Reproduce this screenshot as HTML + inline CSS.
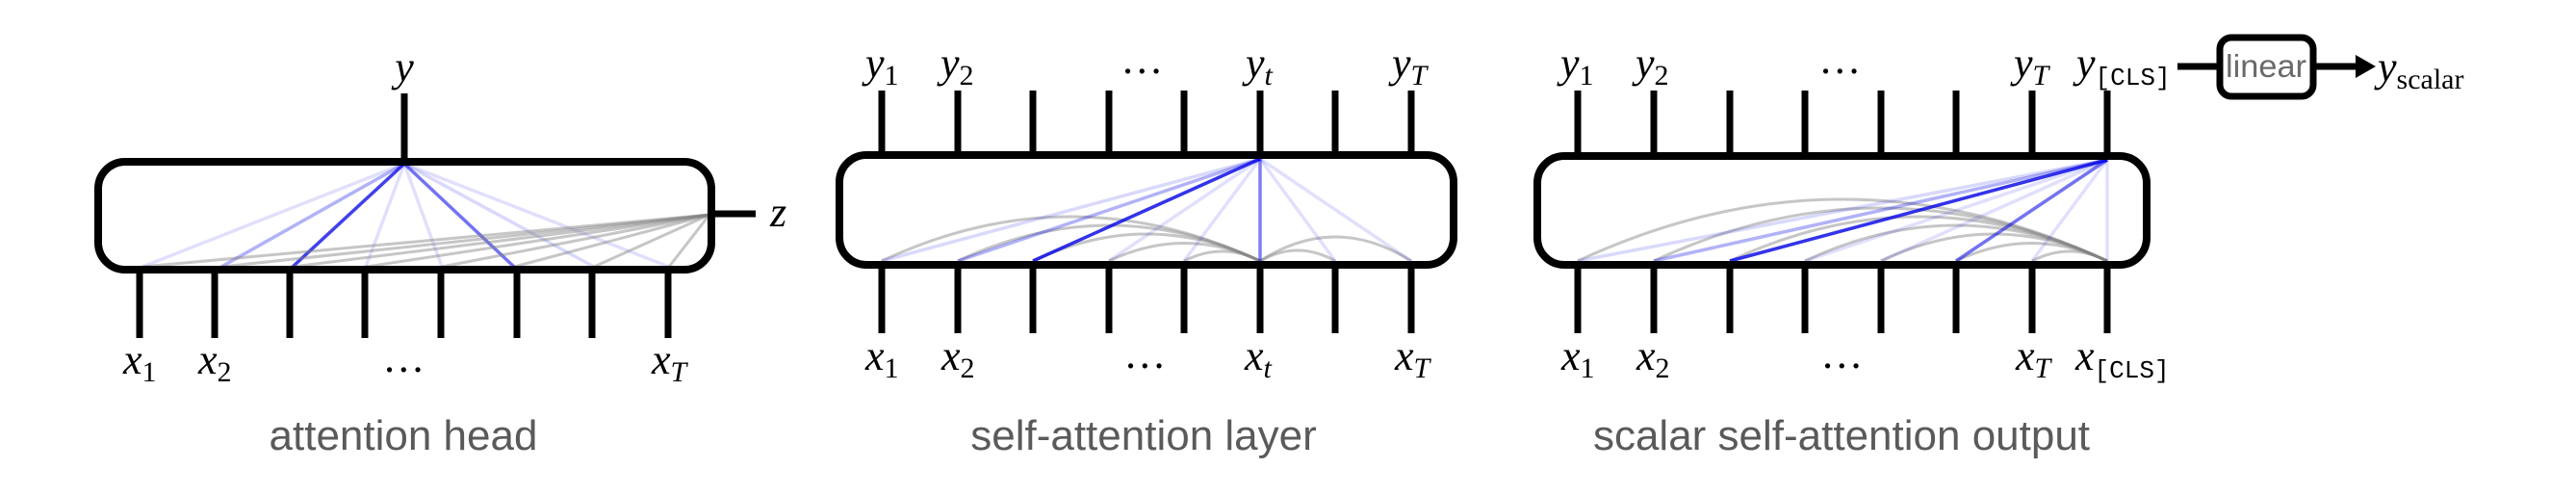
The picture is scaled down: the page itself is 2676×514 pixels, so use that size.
<!DOCTYPE html>
<html><head><meta charset="utf-8"><style>
html,body{margin:0;padding:0;background:#fff;}
svg{display:block;}
.m{font-family:"Liberation Serif",serif;font-style:italic;font-size:44px;fill:#000;}
.s{font-size:30px;}
.n{font-style:normal;}
.t{font-style:normal;font-family:"Liberation Mono",monospace;font-size:26px;}
.cap{font-family:"Liberation Sans",sans-serif;font-size:44px;fill:#5a5a5a;}
</style></head><body>
<svg width="2676" height="514" viewBox="0 0 2676 514" xmlns="http://www.w3.org/2000/svg">

<!-- Panel 1 -->
<g stroke="#000" stroke-width="7" fill="none">
<line x1="420" y1="97" x2="420" y2="168"/>
<line x1="739" y1="222" x2="785" y2="222"/>
<line x1="145" y1="280" x2="145" y2="351"/><line x1="223" y1="280" x2="223" y2="351"/>
<line x1="301" y1="280" x2="301" y2="351"/><line x1="379" y1="280" x2="379" y2="351"/>
<line x1="458" y1="280" x2="458" y2="351"/><line x1="537" y1="280" x2="537" y2="351"/>
<line x1="615" y1="280" x2="615" y2="351"/><line x1="694" y1="280" x2="694" y2="351"/>
</g>
<g stroke="#0000e6" stroke-width="3.5">
<line x1="420" y1="170" x2="148" y2="277" stroke-opacity="0.12"/>
<line x1="420" y1="170" x2="230" y2="277" stroke-opacity="0.3"/>
<line x1="420" y1="170" x2="304" y2="277" stroke-opacity="0.75"/>
<line x1="420" y1="170" x2="380" y2="277" stroke-opacity="0.12"/>
<line x1="420" y1="170" x2="459" y2="277" stroke-opacity="0.12"/>
<line x1="420" y1="170" x2="534" y2="277" stroke-opacity="0.55"/>
<line x1="420" y1="170" x2="617" y2="277" stroke-opacity="0.15"/>
<line x1="420" y1="170" x2="695" y2="277" stroke-opacity="0.12"/>
</g>
<g stroke="#808080" stroke-width="3" stroke-opacity="0.45">
<line x1="737" y1="223" x2="148" y2="277"/><line x1="737" y1="223" x2="230" y2="277"/>
<line x1="737" y1="223" x2="304" y2="277"/><line x1="737" y1="223" x2="380" y2="277"/>
<line x1="737" y1="223" x2="459" y2="277"/><line x1="737" y1="223" x2="534" y2="277"/>
<line x1="737" y1="223" x2="617" y2="277"/><line x1="737" y1="223" x2="695" y2="277"/>
</g>
<rect x="102" y="168" width="637" height="112" rx="28" fill="none" stroke="#000" stroke-width="8"/>
<text class="m" x="420" y="84" text-anchor="middle">y</text>
<text class="m" x="800" y="235">z</text>
<text class="m" x="128" y="388">x<tspan class="s n" dy="8">1</tspan></text>
<text class="m" x="206" y="388">x<tspan class="s n" dy="8">2</tspan></text>
<text class="m" x="420" y="386" text-anchor="middle">…</text>
<text class="m" x="677" y="388">x<tspan class="s" dy="8">T</tspan></text>
<text class="cap" x="419" y="467" text-anchor="middle">attention head</text>

<!-- Panel 2 -->
<g stroke="#000" stroke-width="7" fill="none">
<line x1="916" y1="94" x2="916" y2="161"/><line x1="995" y1="94" x2="995" y2="161"/>
<line x1="1073" y1="94" x2="1073" y2="161"/><line x1="1152" y1="94" x2="1152" y2="161"/>
<line x1="1230" y1="94" x2="1230" y2="161"/><line x1="1309" y1="94" x2="1309" y2="161"/>
<line x1="1387" y1="94" x2="1387" y2="161"/><line x1="1466" y1="94" x2="1466" y2="161"/>
<line x1="916" y1="275" x2="916" y2="346"/><line x1="995" y1="275" x2="995" y2="346"/>
<line x1="1073" y1="275" x2="1073" y2="346"/><line x1="1152" y1="275" x2="1152" y2="346"/>
<line x1="1230" y1="275" x2="1230" y2="346"/><line x1="1309" y1="275" x2="1309" y2="346"/>
<line x1="1387" y1="275" x2="1387" y2="346"/><line x1="1466" y1="275" x2="1466" y2="346"/>
</g>
<g stroke="#808080" stroke-width="3" stroke-opacity="0.45" fill="none">
<path d="M916,271 Q1112,179 1309,271"/>
<path d="M995,271 Q1152,197 1309,271"/>
<path d="M1073,271 Q1191,215 1309,271"/>
<path d="M1152,271 Q1230,234 1309,271"/>
<path d="M1230,271 Q1270,251 1309,271"/>
<path d="M1309,271 Q1348,249 1387,271"/>
<path d="M1309,271 Q1387,221 1466,271"/>
</g>
<g stroke="#0000e6" stroke-width="3.5">
<line x1="1309" y1="165" x2="916" y2="271" stroke-opacity="0.15"/>
<line x1="1309" y1="165" x2="995" y2="271" stroke-opacity="0.3"/>
<line x1="1309" y1="165" x2="1073" y2="271" stroke-opacity="0.8"/>
<line x1="1309" y1="165" x2="1152" y2="271" stroke-opacity="0.12"/>
<line x1="1309" y1="165" x2="1230" y2="271" stroke-opacity="0.12"/>
<line x1="1309" y1="165" x2="1309" y2="271" stroke-opacity="0.5"/>
<line x1="1309" y1="165" x2="1387" y2="271" stroke-opacity="0.12"/>
<line x1="1309" y1="165" x2="1466" y2="271" stroke-opacity="0.12"/>
</g>
<rect x="872" y="161" width="638" height="114" rx="28" fill="none" stroke="#000" stroke-width="8"/>
<text class="m" x="899" y="80">y<tspan class="s n" dy="8">1</tspan></text>
<text class="m" x="977" y="80">y<tspan class="s n" dy="8">2</tspan></text>
<text class="m" x="1187" y="76" text-anchor="middle">…</text>
<text class="m" x="1294" y="80">y<tspan class="s" dy="8">t</tspan></text>
<text class="m" x="1446" y="80">y<tspan class="s" dy="8">T</tspan></text>
<text class="m" x="899" y="384">x<tspan class="s n" dy="8">1</tspan></text>
<text class="m" x="978" y="384">x<tspan class="s n" dy="8">2</tspan></text>
<text class="m" x="1190" y="382" text-anchor="middle">…</text>
<text class="m" x="1293" y="384">x<tspan class="s" dy="8">t</tspan></text>
<text class="m" x="1449" y="384">x<tspan class="s" dy="8">T</tspan></text>
<text class="cap" x="1188" y="467" text-anchor="middle">self-attention layer</text>

<!-- Panel 3 -->
<g stroke="#000" stroke-width="7" fill="none">
<line x1="1639" y1="94" x2="1639" y2="162"/><line x1="1718" y1="94" x2="1718" y2="162"/>
<line x1="1797" y1="94" x2="1797" y2="162"/><line x1="1875" y1="94" x2="1875" y2="162"/>
<line x1="1954" y1="94" x2="1954" y2="162"/><line x1="2032" y1="94" x2="2032" y2="162"/>
<line x1="2111" y1="94" x2="2111" y2="162"/><line x1="2189" y1="94" x2="2189" y2="162"/>
<line x1="1639" y1="275" x2="1639" y2="346"/><line x1="1718" y1="275" x2="1718" y2="346"/>
<line x1="1797" y1="275" x2="1797" y2="346"/><line x1="1875" y1="275" x2="1875" y2="346"/>
<line x1="1954" y1="275" x2="1954" y2="346"/><line x1="2032" y1="275" x2="2032" y2="346"/>
<line x1="2111" y1="275" x2="2111" y2="346"/><line x1="2189" y1="275" x2="2189" y2="346"/>
</g>
<g stroke="#808080" stroke-width="3" stroke-opacity="0.45" fill="none">
<path d="M1639,271 Q1914,143 2189,271"/>
<path d="M1718,271 Q1953,161 2189,271"/>
<path d="M1797,271 Q1993,179 2189,271"/>
<path d="M1875,271 Q2032,197 2189,271"/>
<path d="M1954,271 Q2071,215 2189,271"/>
<path d="M2032,271 Q2110,234 2189,271"/>
<path d="M2111,271 Q2150,251 2189,271"/>
</g>
<g stroke="#0000e6" stroke-width="3.5">
<line x1="2189" y1="166" x2="1639" y2="271" stroke-opacity="0.15"/>
<line x1="2189" y1="166" x2="1718" y2="271" stroke-opacity="0.3"/>
<line x1="2189" y1="166" x2="1797" y2="271" stroke-opacity="0.8"/>
<line x1="2189" y1="166" x2="1875" y2="271" stroke-opacity="0.12"/>
<line x1="2189" y1="166" x2="1954" y2="271" stroke-opacity="0.12"/>
<line x1="2189" y1="166" x2="2032" y2="271" stroke-opacity="0.55"/>
<line x1="2189" y1="166" x2="2111" y2="271" stroke-opacity="0.12"/>
<line x1="2189" y1="166" x2="2189" y2="271" stroke-opacity="0.12"/>
</g>
<rect x="1597" y="162" width="633" height="113" rx="28" fill="none" stroke="#000" stroke-width="8"/>
<text class="m" x="1621" y="80">y<tspan class="s n" dy="8">1</tspan></text>
<text class="m" x="1699" y="80">y<tspan class="s n" dy="8">2</tspan></text>
<text class="m" x="1912" y="76" text-anchor="middle">…</text>
<text class="m" x="2092" y="80">y<tspan class="s" dy="8">T</tspan></text>
<text class="m" x="2157" y="80">y<tspan class="t" dy="8">[CLS]</tspan></text>
<text class="m" x="1622" y="384">x<tspan class="s n" dy="8">1</tspan></text>
<text class="m" x="1700" y="384">x<tspan class="s n" dy="8">2</tspan></text>
<text class="m" x="1914" y="382" text-anchor="middle">…</text>
<text class="m" x="2094" y="384">x<tspan class="s" dy="8">T</tspan></text>
<text class="m" x="2156" y="384">x<tspan class="t" dy="8">[CLS]</tspan></text>
<text class="cap" x="1913" y="467" text-anchor="middle">scalar self-attention output</text>

<!-- linear -->
<line x1="2262" y1="69" x2="2303" y2="69" stroke="#000" stroke-width="7"/>
<rect x="2306" y="39" width="97" height="61" rx="12" fill="none" stroke="#000" stroke-width="7"/>
<text x="2354" y="80" text-anchor="middle" font-family="Liberation Sans,sans-serif" font-size="33" fill="#6a6a6a" textLength="84" lengthAdjust="spacingAndGlyphs">linear</text>
<line x1="2406" y1="69" x2="2450" y2="69" stroke="#000" stroke-width="7"/>
<path d="M2447,57 L2468,69 L2447,81 z" fill="#000"/>
<text class="m" x="2470" y="84">y<tspan class="s n" dy="8">scalar</tspan></text>
</svg>
</body></html>
